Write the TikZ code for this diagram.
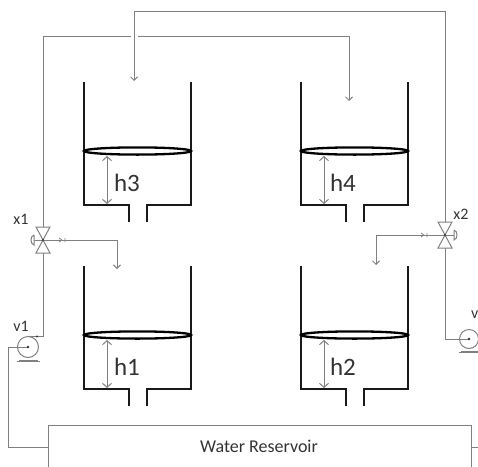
\documentclass[tikz,border=0pt]{standalone}
\usepackage{fontspec}
\setmainfont{Carlito}
\usetikzlibrary{arrows.meta}
\definecolor{pipe}{gray}{0.5}
\definecolor{inkc}{gray}{0.2}
\tikzset{
  pipeline/.style={draw=pipe,line width=1pt},
  wall/.style={draw=black!90,line width=1.8pt},
  tiparrow/.style={pipeline,-{Straight Barb[length=3.5pt,width=7pt]}},
  lbl/.style={inner sep=0pt,text=inkc,font=\fontsize{16}{17}\selectfont},
  hl/.style={inner sep=0pt,text=inkc,font=\fontsize{25}{26}\selectfont},
}
\newcommand{\tankshape}[2]{%
  \begin{scope}[shift={(#1,#2)}]
    \draw[wall,line join=miter] (0,0) -- (0,123) -- (45,123) -- (45,140);
    \draw[wall,line join=miter] (107,0) -- (107,123) -- (63,123) -- (63,140);
    \draw[draw=black,line width=2.3pt] (53.5,69) ellipse [x radius=53.5,y radius=3.6];
    \draw[draw=pipe,line width=1pt,{Straight Barb[length=4pt,width=9pt]}-{Straight Barb[length=4pt,width=9pt]}] (23,74) -- (23,122);
  \end{scope}}
\newcommand{\valveshape}[3]{%
  \begin{scope}[shift={(#1,#2)}]
    \draw[pipeline,fill=white] (0,0) -- (-7,-13) -- (7,-13) -- cycle;
    \draw[pipeline,fill=white] (0,0) -- (-7,13) -- (7,13) -- cycle;
    \draw[pipeline] (0,0) -- (#3*9,0);
    \draw[pipeline] (#3*9,-5) -- (#3*9,5) .. controls (#3*13,4) and (#3*13,-4) .. (#3*9,-5);
    \fill[inkc] (0,0) circle (1.2pt);
  \end{scope}}
\newcommand{\pumpshape}[3]{%
  \begin{scope}[shift={(#1,#2)}]
    \draw[pipeline] (-#3+1,#3+2.5) -- (#3-1,#3+2.5);
    \draw[pipeline] (-#3-1,#3+3.5) -- (#3+1,#3+3.5);
    \draw[pipeline] (0,0) circle (#3);
    \fill[inkc] (0,0) circle (1.3pt);
  \end{scope}}
\begin{document}
\begin{tikzpicture}[x=1pt,y=-1pt]
\useasboundingbox (0,0) rectangle (478,466);
\clip (0,0) rectangle (478,466);
\tankshape{84}{82}
\tankshape{301}{82}
\tankshape{84}{266}
\tankshape{301}{266}
\node[hl] (h3) at (127,183) {h3};
\node[hl] (h4) at (343,183) {h4};
\node[hl] (h1) at (127,367) {h1};
\node[hl] (h2) at (343,367) {h2};
% reservoir
\draw[pipeline] (48,470) -- (48,425) -- (471,425) -- (471,470);
\node[lbl,font=\fontsize{18}{19}\selectfont] (res) at (259,446.5) {Water Reservoir};
\coordinate (rl) at (48,447);
\coordinate (rr) at (471,447);
% pipes
\coordinate (p1) at (28,347);
\coordinate (p2) at (469,339);
\coordinate (x1c) at (43,240);
\coordinate (x2c) at (445,235);
\draw[pipeline] (rl) -- (8,447) -- (8,347) -- (p1);
\draw[pipeline] (rr) -- (478,447);
\draw[pipeline] (28,336.5) -- (43,336.5) -- (x1c);
\fill[inkc] (37,336.5) circle (1.2pt);
\draw[tiparrow] (x1c) -- (43,36) -- (349,36) -- (349,101);
\draw[white,line width=2pt] (130.5,36) -- (137.5,36);
\draw[tiparrow] (x1c) -- (117,240) -- (117,269);
\draw[pipeline] (p2) -- (445,339) -- (x2c);
\draw[tiparrow] (x2c) -- (445,11) -- (134,11) -- (134,81);
\draw[tiparrow] (x2c) -- (376,235) -- (376,265);
\pumpshape{28}{347}{10.5}
\pumpshape{469}{339}{9.5}
\valveshape{43}{240}{-1}
\valveshape{445}{235}{1}
\draw[pipe,line width=0.8pt] (59,238) -- (62,240) -- (59,242) (65,238) -- (65,242);
\draw[pipe,line width=0.8pt] (421,233) -- (424,235) -- (421,237) (427,233) -- (427,237);
\node[lbl] (x1) at (21,219) {x1};
\node[lbl] (x2) at (461,214) {x2};
\node[lbl] (v1) at (21,326) {v1};
\node[lbl,anchor=west] (v2) at (471,315) {v};
\end{tikzpicture}
\end{document}
